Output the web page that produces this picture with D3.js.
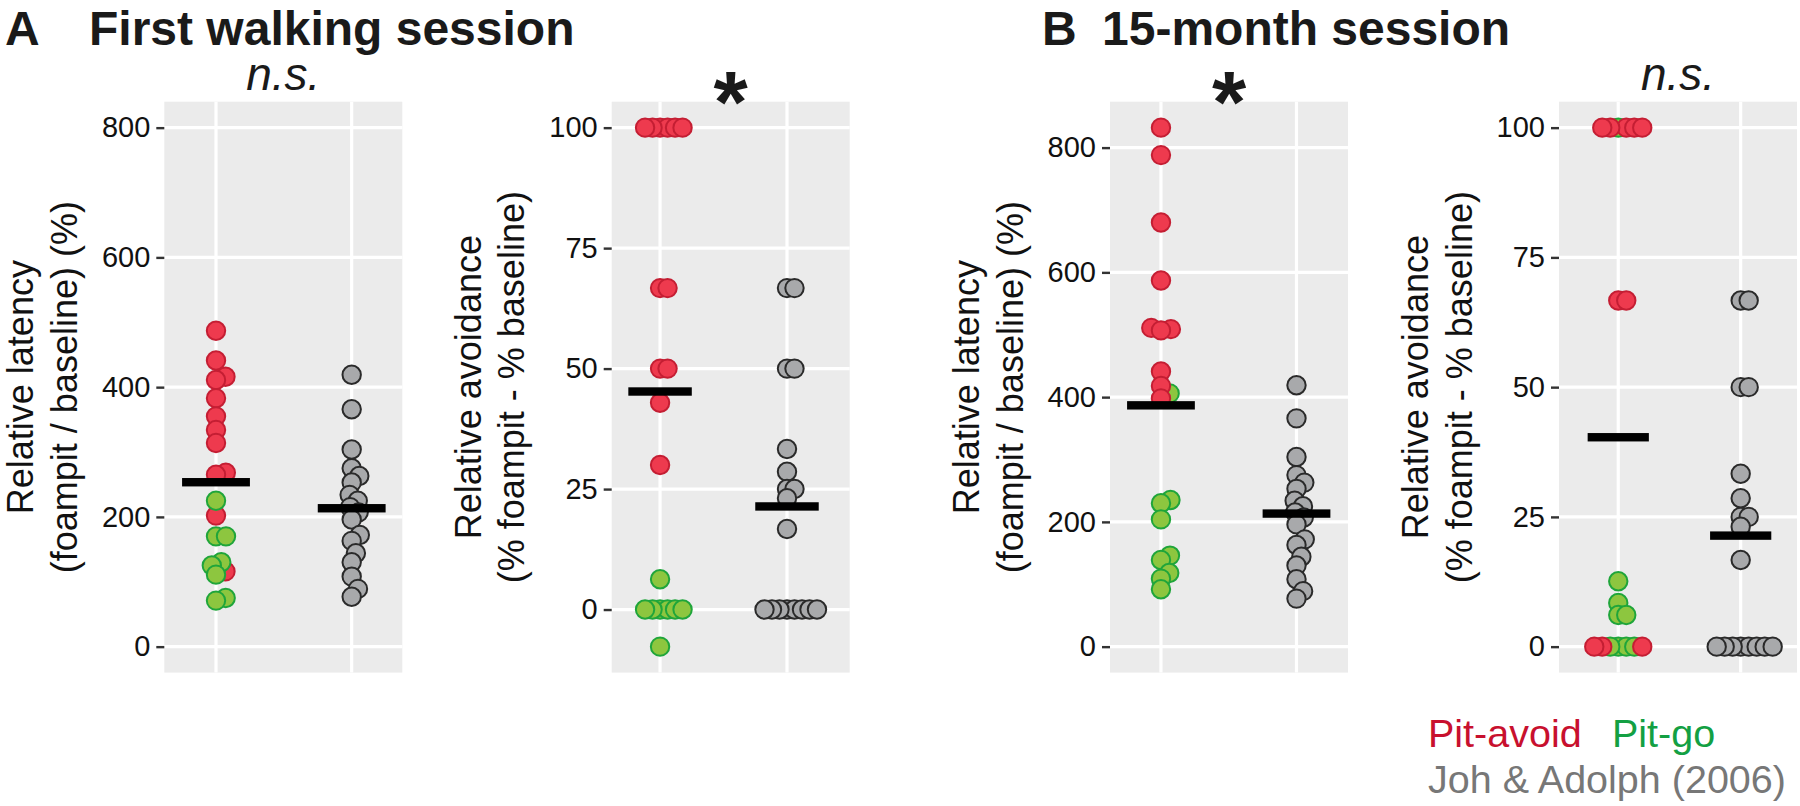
<!DOCTYPE html>
<html><head><meta charset="utf-8">
<script src="https://cdn.jsdelivr.net/npm/d3@7"></script>
<style>
body{margin:0;background:#fff;}
svg{display:block;font-family:"Liberation Sans", Arial, Helvetica, sans-serif;}
</style>
</head><body>
<svg id="chart" width="1800" height="806"></svg>
<script>
// ---------------- DATA ----------------
const sessionLetters = ["A", "B"];
const sessionTitles = ["First walking session", "15-month session"];
const significance = ["n.s.", "*", "*", "n.s."];           // one per panel
const measureTitles = [
  ["Relative latency", "(foampit / baseline) (%)"],
  ["Relative avoidance", "(% foampit - % baseline)"]
];
const latencyTicks = [0, 200, 400, 600, 800];
const avoidanceTicks = [0, 25, 50, 75, 100];
const legendLabels = ["Pit-avoid", "Pit-go", "Joh & Adolph (2006)"];

// Joh & Adolph (2006) comparison group (same in both sessions)
const johLatency = [419, 366, 304, 275, 263, 253, 234, 225, 215, 207, 196, 172, 163, 144, 130, 108, 89, 77];
const johAvoidance = [66.7, 66.7, 50, 50, 33.3, 28.6, 25, 25, 23.1, 16.7, 0, 0, 0, 0, 0, 0, 0, 0];

// First walking session
const firstLatencyAvoid = [487, 441, 416, 411, 383, 355, 334, 314, 268, 265, 202, 116];
const firstLatencyGo = [225, 170, 170, 130, 125, 111, 75, 71];
const firstAvoidanceAvoid = [100, 100, 100, 100, 100, 100, 66.7, 66.7, 50, 50, 42.9, 30];
const firstAvoidanceGo = [6.3, 0, 0, 0, 0, 0, 0, -7.7];

// 15-month session
const monthLatencyAvoid = [832, 788, 680, 587, 511, 509, 507, 441, 418, 398];
const monthLatencyGo = [406, 235, 230, 204, 146, 139, 118, 109, 92];
const monthAvoidanceAvoid = [100, 100, 100, 100, 100, 66.7, 66.7, 0, 0, 0];
const monthAvoidanceGo = [100, 12.6, 8.4, 6.1, 6.1, 0, 0, 0, 0];

// ---------------- STYLE / LAYOUT ----------------
const colors = {
  avoid: {fill: "#EE3A4E", stroke: "#C41E33"},
  go: {fill: "#8DC63F", stroke: "#1FA53A"},
  joh: {fill: "#A8A9AB", stroke: "#2A2A2A"}
};
const legendColors = ["#C8102E", "#13A043", "#777777"];
const panelTop = 101.7, panelBottom = 672.6, panelW = 238;

const panels = [
  {left: 164.3, xDom: [0.619, 2.373], kind: "lat", avoid: firstLatencyAvoid, go: firstLatencyGo, joh: johLatency, order: ["avoid", "go"], gap: 10},
  {left: 611.7, xDom: [0.619, 2.494], kind: "avd", avoid: firstAvoidanceAvoid, go: firstAvoidanceGo, joh: johAvoidance, order: ["avoid", "go"], gap: 7.5},
  {left: 1110, xDom: [0.624, 2.38], kind: "lat", avoid: monthLatencyAvoid, go: monthLatencyGo, joh: johLatency, order: ["go", "avoid"], gap: 10},
  {left: 1559, xDom: [0.516, 2.46], kind: "avd", avoid: monthAvoidanceAvoid, go: monthAvoidanceGo, joh: johAvoidance, order: ["go", "avoid"], gap: 8}
];

const svg = d3.select("#chart");

// beeswarm: ascending by value, nearest free offset to center
function swarm(pts, d) {
  const idx = pts.map((p, i) => i).sort((a, b) => (pts[b].cy - pts[a].cy) || (a - b));
  const placed = [];
  idx.forEach(i => {
    const p = pts[i];
    const near = placed.filter(q => Math.abs(q.cy - p.cy) < d);
    const cands = [0];
    near.forEach(q => {
      const w = Math.sqrt(d * d - (q.cy - p.cy) ** 2);
      cands.push(q.dx + w, q.dx - w);
    });
    const ok = cands.filter(c => near.every(q => (c - q.dx) ** 2 + (p.cy - q.cy) ** 2 >= d * d - 1e-6));
    ok.sort((a, b) => (Math.abs(a) - Math.abs(b)) || (b - a));
    p.dx = ok[0];
    placed.push(p);
  });
}

panels.forEach((P, pi) => {
  const g = svg.append("g");
  const x = d3.scaleLinear().domain(P.xDom).range([P.left, P.left + panelW]);
  const all = P.avoid.concat(P.go, P.joh);
  let lim;
  if (P.kind === "lat") lim = [0, Math.max(800, d3.max(all))];
  else lim = d3.extent(all);
  const pad = (lim[1] - lim[0]) * 0.05;
  const y = d3.scaleLinear().domain([lim[0] - pad, lim[1] + pad]).range([panelBottom, panelTop]);
  const ticks = P.kind === "lat" ? latencyTicks : avoidanceTicks;

  // background
  g.append("rect").attr("x", x(P.xDom[0])).attr("y", y(lim[1] + pad))
    .attr("width", x(P.xDom[1]) - x(P.xDom[0])).attr("height", y(lim[0] - pad) - y(lim[1] + pad))
    .attr("fill", "#EBEBEB");
  // grid
  g.selectAll(".hg").data(ticks).enter().append("line")
    .attr("x1", x(P.xDom[0])).attr("x2", x(P.xDom[1]))
    .attr("y1", d => y(d)).attr("y2", d => y(d))
    .attr("stroke", "#fff").attr("stroke-width", 3.2);
  g.selectAll(".vg").data([1, 2]).enter().append("line")
    .attr("x1", d => x(d)).attr("x2", d => x(d))
    .attr("y1", panelTop).attr("y2", panelBottom)
    .attr("stroke", "#fff").attr("stroke-width", 3.2);

  // y axis
  const axis = d3.axisLeft(y).tickValues(ticks).tickSize(8).tickPadding(6).tickFormat(d3.format("d"));
  const ag = g.append("g").attr("transform", `translate(${P.left},0)`).call(axis);
  ag.select(".domain").remove();
  ag.selectAll(".tick line").attr("stroke", "#333").attr("stroke-width", 2.4);
  ag.selectAll(".tick text").attr("fill", "#111").attr("font-size", 29)
    .attr("font-family", '"Liberation Sans", Arial, sans-serif');

  // axis title
  const titles = measureTitles[P.kind === "lat" ? 0 : 1];
  const cyMid = (panelTop + panelBottom) / 2;
  titles.forEach((t, li) => {
    const bx = P.left - 131 + li * 43.5;
    g.append("text").attr("transform", `translate(${bx},${cyMid}) rotate(-90)`)
      .attr("text-anchor", "middle").attr("font-size", 36).attr("fill", "#111").text(t);
  });

  // significance
  const sig = significance[pi];
  const cxMid = P.left + panelW / 2;
  if (sig === "*") {
    g.append("text").attr("x", cxMid).attr("y", 132).attr("text-anchor", "middle")
      .attr("font-size", 88).attr("font-weight", "bold").attr("fill", "#1a1a1a").text(sig);
  } else {
    g.append("text").attr("x", cxMid).attr("y", 90).attr("text-anchor", "middle")
      .attr("font-size", 46).attr("font-style", "italic").attr("fill", "#1a1a1a").text(sig);
  }

  // points: category 1 = infants (avoid + go), category 2 = Joh & Adolph
  const cat1 = [];
  P.order.forEach(grp => P[grp].forEach(v => cat1.push({v, grp, cy: y(v)})));
  const cat2 = P.joh.map(v => ({v, grp: "joh", cy: y(v)}));
  swarm(cat1, P.gap);
  swarm(cat2, P.gap);
  [[cat1, 1], [cat2, 2]].forEach(([pts, c]) => {
    g.selectAll(null).data(pts).enter().append("circle")
      .attr("cx", d => x(c) + d.dx).attr("cy", d => d.cy).attr("r", 9.2)
      .attr("fill", d => colors[d.grp].fill).attr("stroke", d => colors[d.grp].stroke)
      .attr("stroke-width", 2);
    const m = d3.mean(pts, d => d.v);
    g.append("rect").attr("x", x(c - 0.25)).attr("width", x(c + 0.25) - x(c - 0.25))
      .attr("y", y(m) - 4.2).attr("height", 8.4).attr("fill", "#000");
  });
});

// session titles
[{lx: 5, tx: 89}, {lx: 1042, tx: 1102}].forEach((p, i) => {
  svg.append("text").attr("x", p.lx).attr("y", 45).attr("font-size", 48).attr("font-weight", "bold")
    .attr("fill", "#1a1a1a").text(sessionLetters[i]);
  svg.append("text").attr("x", p.tx).attr("y", 45).attr("font-size", 48).attr("font-weight", "bold")
    .attr("fill", "#1a1a1a").text(sessionTitles[i]);
});

// legend
svg.append("text").attr("x", 1428).attr("y", 747).attr("font-size", 39.5).attr("fill", legendColors[0]).text(legendLabels[0]);
svg.append("text").attr("x", 1612).attr("y", 747).attr("font-size", 39.5).attr("fill", legendColors[1]).text(legendLabels[1]);
svg.append("text").attr("x", 1428).attr("y", 793).attr("font-size", 39.5).attr("fill", legendColors[2]).text(legendLabels[2]);
</script>
</body></html>
